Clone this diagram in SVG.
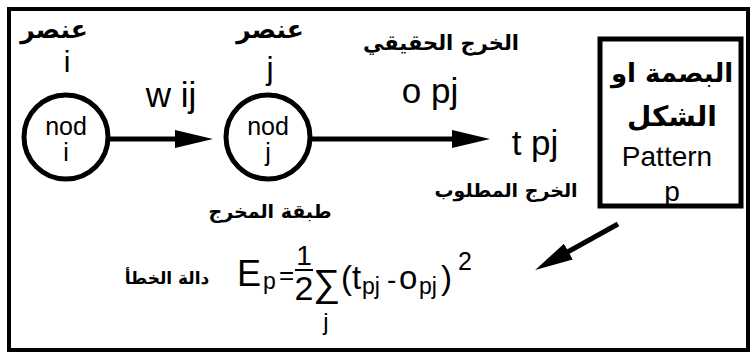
<svg xmlns="http://www.w3.org/2000/svg" width="753" height="357" viewBox="0 0 753 357">
<style>
.lat{font-family:"Liberation Sans",Arial,sans-serif;fill:#000}
.ar{font-family:"DejaVu Sans",sans-serif;font-weight:bold;fill:#000}
.node{fill:#fff;stroke:#000;stroke-width:5}
.conn{stroke:#000;stroke-width:5;fill:none}
</style>
<defs>
<marker id="ah" markerUnits="userSpaceOnUse" markerWidth="40" markerHeight="20" refX="5" refY="9" orient="auto">
<path d="M0,0 L38,9 L0,18 z" fill="#000"/>
</marker>
</defs>
<rect x="0" y="0" width="753" height="357" fill="#fff"/>
<rect x="9" y="9" width="739" height="341" fill="none" stroke="#000" stroke-width="4"/>

<g id="connectors">
<line class="conn" x1="110" y1="139" x2="180" y2="139" marker-end="url(#ah)"/>
<line class="conn" x1="310" y1="139" x2="457" y2="139" marker-end="url(#ah)"/>
<line class="conn" x1="618" y1="224" x2="564" y2="254" marker-end="url(#ah)"/>
</g>

<g id="node-i">
<text class="ar" x="54" y="38" font-size="25" text-anchor="middle">عنصر</text>
<text class="lat" x="67" y="72" font-size="30" text-anchor="middle">i</text>
<circle class="node" cx="66" cy="137" r="42"/>
<text class="lat" x="66" y="135" font-size="25" text-anchor="middle">nod</text>
<text class="lat" x="66" y="161" font-size="25" text-anchor="middle">i</text>
</g>

<g id="label-wij">
<text class="lat" x="171" y="107" font-size="35" text-anchor="middle">w ij</text>
</g>

<g id="node-j">
<text class="ar" x="270" y="38" font-size="25" text-anchor="middle">عنصر</text>
<text class="lat" x="270" y="79" font-size="32" text-anchor="middle">j</text>
<circle class="node" cx="268" cy="137" r="42"/>
<text class="lat" x="268" y="135" font-size="25" text-anchor="middle">nod</text>
<text class="lat" x="268" y="161" font-size="25" text-anchor="middle">j</text>
<text class="ar" x="270" y="218" font-size="19" text-anchor="middle">طبقة المخرج</text>
</g>

<g id="label-opj">
<text class="ar" x="441" y="50" font-size="21" text-anchor="middle">الخرج الحقيقي</text>
<text class="lat" x="430" y="103" font-size="35" text-anchor="middle">o pj</text>
</g>

<g id="node-tpj">
<text class="lat" x="535" y="155" font-size="35" text-anchor="middle">t pj</text>
<text class="ar" x="506" y="197" font-size="19" text-anchor="middle">الخرج المطلوب</text>
</g>

<g id="node-pattern">
<rect x="600" y="39" width="141" height="167" fill="#fff" stroke="#000" stroke-width="5"/>
<text class="ar" x="672" y="82" font-size="26" text-anchor="middle">البصمة او</text>
<text class="ar" x="672" y="126" font-size="28" text-anchor="middle">الشكل</text>
<text class="lat" x="667" y="166" font-size="28" text-anchor="middle">Pattern</text>
<text class="lat" x="672" y="201" font-size="28" text-anchor="middle">p</text>
</g>

<g id="formula">
<text class="ar" x="167" y="284" font-size="17" text-anchor="middle">دالة الخطأ</text>
<text class="lat" x="237" y="286" font-size="36">E</text>
<text class="lat" x="263" y="289" font-size="23">p</text>
<text class="lat" x="279" y="284" font-size="26">=</text>
<text class="lat" x="304" y="265" font-size="28" text-anchor="middle">1</text>
<line x1="295" y1="270" x2="313" y2="270" stroke="#000" stroke-width="2"/>
<text class="lat" x="304" y="300" font-size="34" text-anchor="middle">2</text>
<text class="lat" x="313" y="296" font-size="38">∑</text>
<text class="lat" x="326" y="330" font-size="24" text-anchor="middle">j</text>
<text class="lat" x="341" y="289" font-size="33">(t</text>
<text class="lat" x="362" y="294" font-size="23">pj</text>
<text class="lat" x="387" y="289" font-size="28">-</text>
<text class="lat" x="399" y="289" font-size="33">o</text>
<text class="lat" x="419" y="294" font-size="23">pj</text>
<text class="lat" x="441" y="289" font-size="33">)</text>
<text class="lat" x="458" y="270" font-size="25">2</text>
</g>
</svg>
